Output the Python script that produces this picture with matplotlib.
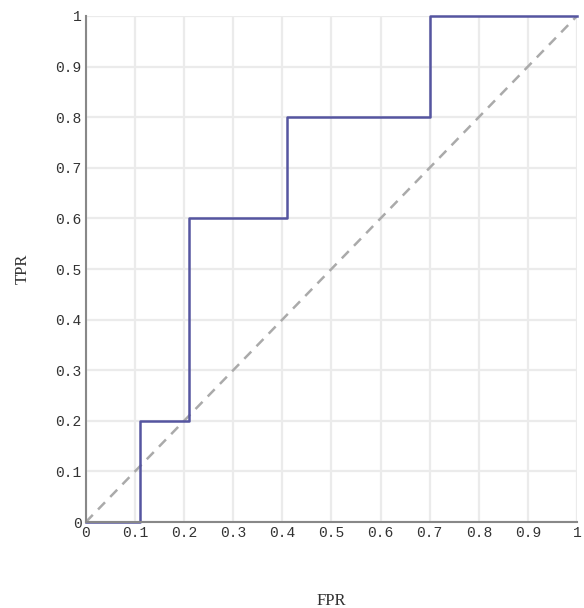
import matplotlib
matplotlib.use('Agg')
import matplotlib.pyplot as plt

# pontos da curva ROC (degraus)
fpr = [0, 0.11, 0.11, 0.21, 0.21, 0.41, 0.41, 0.70, 0.70, 1]
tpr = [0, 0, 0.2, 0.2, 0.6, 0.6, 0.8, 0.8, 1, 1]
ticks = [0, 0.1, 0.2, 0.3, 0.4, 0.5, 0.6, 0.7, 0.8, 0.9, 1]
tick_labels = ['0', '0.1', '0.2', '0.3', '0.4', '0.5', '0.6', '0.7', '0.8', '0.9', '1']

plt.rcParams['font.family'] = ['Liberation Mono', 'DejaVu Sans Mono']

fig = plt.figure(figsize=(5.84, 6.08), dpi=100)
ax = fig.add_axes([0.147, 0.1414, 0.841, 0.8323])

# linha de referencia (aleatorio)
ax.plot([0, 1], [0, 1], color='#aaaaaa', linestyle=(0, (4, 3)), linewidth=1.8)
# curva ROC
ax.plot(fpr, tpr, color='#5555a0', linewidth=1.8, clip_on=False)

ax.set_xlim(0, 1)
ax.set_ylim(0, 1)
ax.set_xticks(ticks)
ax.set_xticklabels(tick_labels)
ax.set_yticks(ticks)
ax.set_yticklabels(tick_labels)
ax.tick_params(length=0, labelsize=10.5, colors='#333333', pad=3)
ax.grid(True, color='#ebebeb', linewidth=1.6)
ax.set_axisbelow(True)

for s in ['top', 'right']:
    ax.spines[s].set_visible(False)
for s in ['left', 'bottom']:
    ax.spines[s].set_color('#888888')
    ax.spines[s].set_linewidth(1.5)

ax.set_xlabel('FPR', fontsize=12, color='#333333', labelpad=38,
              family=['Liberation Serif', 'DejaVu Serif'])
ax.set_ylabel('TPR', fontsize=12, color='#333333', labelpad=18,
              family=['Liberation Serif', 'DejaVu Serif'])

fig.savefig('out.png', dpi=100)
